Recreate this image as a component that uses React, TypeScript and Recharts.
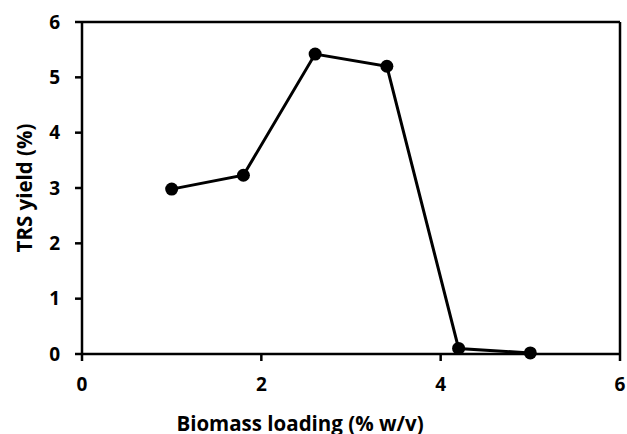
import React from "react";
import { LineChart, Line, XAxis, YAxis, ReferenceLine } from "recharts";

const loading = [1, 1.8, 2.6, 3.4, 4.2, 5];
const trsYield = [2.98, 3.23, 5.42, 5.2, 0.1, 0.02];
const xTicks = [0, 2, 4, 6];
const yTicks = [0, 1, 2, 3, 4, 5, 6];

const data = loading.map((x, i) => ({ x, y: trsYield[i] }));

const font = "'Open Sans', sans-serif";
const tickStyle = { fontSize: 19, fontWeight: 700, fill: "#000", fontFamily: font };

export default function App() {
  return (
    <div style={{ position: "absolute", left: 0, top: 0, background: "#fff" }}>
      <LineChart
        width={627}
        height={434}
        data={data}
        margin={{ top: 22, right: 7, bottom: 0, left: 0 }}
      >
        <XAxis
          type="number"
          dataKey="x"
          domain={[0, 6]}
          ticks={xTicks}
          height={80}
          axisLine={{ stroke: "#000", strokeWidth: 2.5 }}
          tickLine={{ stroke: "#000", strokeWidth: 2.5 }}
          tickSize={7}
          tickMargin={17}
          tick={tickStyle}
          label={{
            value: "Biomass loading (% w/v)",
            position: "insideBottom",
            offset: 3,
            dx: -51,
            style: { fontSize: 20.5, fontWeight: 700, fill: "#000", fontFamily: font },
          }}
        />
        <YAxis
          type="number"
          domain={[0, 6]}
          ticks={yTicks}
          width={82}
          axisLine={{ stroke: "#000", strokeWidth: 2.5 }}
          tickLine={{ stroke: "#000", strokeWidth: 2.5 }}
          tickSize={7}
          tickMargin={15}
          tick={tickStyle}
          label={{
            value: "TRS yield (%)",
            angle: -90,
            position: "insideLeft",
            offset: 25,
            style: { fontSize: 20.5, fontWeight: 700, fill: "#000", fontFamily: font, textAnchor: "middle" },
          }}
        />
        <ReferenceLine y={6} stroke="#000" strokeWidth={2.5} />
        <ReferenceLine x={6} stroke="#000" strokeWidth={2.5} />
        <Line
          type="linear"
          dataKey="y"
          stroke="#000"
          strokeWidth={3}
          dot={{ r: 6.5, fill: "#000", stroke: "#000", strokeWidth: 0 }}
          isAnimationActive={false}
        />
      </LineChart>
    </div>
  );
}
